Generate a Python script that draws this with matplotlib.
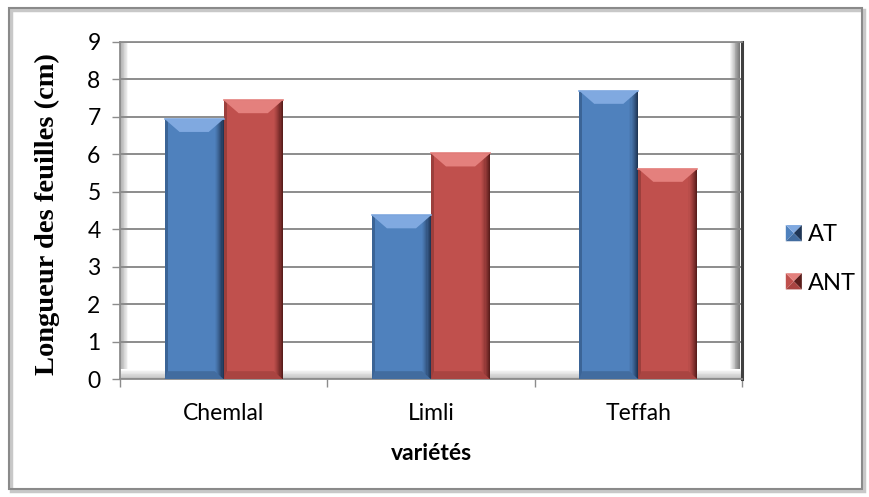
import matplotlib
matplotlib.use('Agg')
import matplotlib.pyplot as plt
import numpy as np
from matplotlib.patches import Polygon, Rectangle
from matplotlib.legend_handler import HandlerPatch
from matplotlib.colors import to_rgb

# Longueur moyenne des feuilles (cm) par variété
varietes = ['Chemlal', 'Limli', 'Teffah']
at = [6.94, 4.37, 7.69]
ant = [7.44, 6.02, 5.61]
series = ['AT', 'ANT']
yticks = list(range(0, 10))

# couleurs : face, biseau haut, bord droit, bord gauche, bas
palette = {
    'AT': ['#4F81BD', '#80A9E0', '#1F3656', '#3B6496', '#426C9F'],
    'ANT': ['#C0504D', '#E4807D', '#5A1D1B', '#9C3F3C', '#A94441'],
}

W, H = 869, 497
fig = plt.figure(figsize=(W / 100, H / 100), dpi=100)

# zone de tracé en pixels
px_l, px_r, px_t, px_b = 120, 742, 41.7, 379.2
ax = fig.add_axes([px_l / W, 1 - px_b / H, (px_r - px_l) / W, (px_b - px_t) / H])
ax_w, ax_h = px_r - px_l, px_b - px_t

# cadre extérieur du graphique avec ombre
fig.patches.append(Rectangle((11 / W, 6 / H), 853 / W, 481 / H, transform=fig.transFigure,
                             fill=False, edgecolor='#c8c8c8', linewidth=2.5, zorder=0))
fig.patches.append(Rectangle((9 / W, 8 / H), 853 / W, 481 / H, transform=fig.transFigure,
                             fill=False, edgecolor='#8a8a8a', linewidth=1.5, zorder=1))


def degrade(x0, x1, y0, y1, c0, c1, n=12, sens='x', z=0.2):
    """bande en dégradé (coordonnées axes)"""
    c0, c1 = np.array(to_rgb(c0)), np.array(to_rgb(c1))
    for k in range(n):
        f = k / (n - 1)
        col = c0 + (c1 - c0) * f
        if sens == 'x':
            xa = x0 + (x1 - x0) * k / n
            r = Rectangle((xa, y0), (x1 - x0) / n * 1.05, y1 - y0, transform=ax.transAxes,
                          facecolor=col, edgecolor='none', zorder=z)
        else:
            ya = y0 + (y1 - y0) * k / n
            r = Rectangle((x0, ya), x1 - x0, (y1 - y0) / n * 1.05, transform=ax.transAxes,
                          facecolor=col, edgecolor='none', zorder=z)
        ax.add_patch(r)


# murs et sol en relief
degrade(0, 9 / ax_w, 0, 1, '#a8a8a8', '#ffffff')
degrade(1 - 13 / ax_w, 1 - 2 / ax_w, 0, 1, '#ffffff', '#7a7a7a')
degrade(0, 1, 1 / ax_h, 10 / ax_h, '#c4c4c4', '#ffffff', sens='y')

x = np.arange(len(varietes))
largeur = 0.285
barres = {
    'AT': ax.bar(x - largeur / 2, at, largeur, color=palette['AT'][0], zorder=3, label='AT'),
    'ANT': ax.bar(x + largeur / 2, ant, largeur, color=palette['ANT'][0], zorder=3, label='ANT'),
}

ppx = ax_w / 3.0   # pixels par unité en x
ppy = ax_h / 9.0   # pixels par unité en y


def biseau(rect, cols):
    face, clair, sombre, gauche, bas = cols
    x0, y0 = rect.get_x(), rect.get_y()
    x1, y1 = x0 + rect.get_width(), y0 + rect.get_height()
    t, hx = 13 / ppy, 15 / ppx
    r, l, b = 9 / ppx, 3 / ppx, 8 / ppy
    # bord droit en dégradé
    c0, c1 = np.array(to_rgb(face)), np.array(to_rgb(sombre))
    n = 8
    for k in range(n):
        f = (k + 1) / n
        ax.add_patch(Rectangle((x1 - r + r * k / n, y0), r / n * 1.05, y1 - y0,
                               facecolor=c0 + (c1 - c0) * f ** 1.3, edgecolor='none', zorder=4))
    ax.add_patch(Rectangle((x0, y0), l, y1 - y0, facecolor=gauche, edgecolor='none', zorder=4))
    # bas
    ax.add_patch(Polygon([(x0, y0), (x1, y0), (x1 - r, y0 + b), (x0 + l, y0 + b)],
                         closed=True, facecolor=bas, edgecolor='none', zorder=5))
    # biseau supérieur
    ax.add_patch(Polygon([(x0, y1), (x1, y1), (x1 - hx, y1 - t), (x0 + hx, y1 - t)],
                         closed=True, facecolor=clair, edgecolor='none', zorder=5))
    ax.plot([x0, x1], [y1, y1], color=clair, lw=1.2, zorder=6)


for nom, cont in barres.items():
    for rect in cont:
        biseau(rect, palette[nom])


class HandlerBiseau(HandlerPatch):
    def create_artists(self, legend, orig_handle, xdescent, ydescent, width, height, fontsize, trans):
        face, clair, sombre, gauche, bas = palette[orig_handle.get_label()]
        x0, y0 = -xdescent, -ydescent
        x1, y1 = x0 + width, y0 + height
        cx, cy = (x0 + x1) / 2, (y0 + y1) / 2
        tri = [
            ([(x0, y0), (x0, y1), (cx, cy)], face),
            ([(x0, y1), (x1, y1), (cx, cy)], clair),
            ([(x1, y1), (x1, y0), (cx, cy)], sombre),
            ([(x0, y0), (x1, y0), (cx, cy)], bas),
        ]
        return [Polygon(p, closed=True, facecolor=c, edgecolor='none', transform=trans) for p, c in tri]


ax.set_xlim(-0.5, 2.5)
ax.set_ylim(0, 9)
ax.set_yticks(yticks)
ax.set_xticks([-0.5, 0.5, 1.5, 2.5])
ax.set_xticklabels([])
ax.set_xticks(x, minor=True)
ax.set_xticklabels(varietes, minor=True)

police = 'Lato'
taille = 16.5
ax.tick_params(axis='y', length=6, width=1, color='#8c8c8c', pad=8, labelsize=taille)
ax.tick_params(axis='x', which='major', length=6, width=1, color='#8c8c8c')
ax.tick_params(axis='x', which='minor', length=0, pad=17, labelsize=taille)
for lab in ax.get_yticklabels() + ax.get_xticklabels(minor=True):
    lab.set_fontfamily(police)

ax.grid(axis='y', color='#8c8c8c', linewidth=1.4)
ax.set_axisbelow(True)
for s in ['left', 'bottom', 'top']:
    ax.spines[s].set_color('#8c8c8c')
    ax.spines[s].set_linewidth(1.3)
ax.spines['right'].set_color('#404040')
ax.spines['right'].set_linewidth(2.2)

ax.set_ylabel('Longueur des feuilles (cm)', fontfamily='Liberation Serif', fontweight='bold', fontsize=20.5)
ax.yaxis.set_label_coords(-60 / ax_w, 0.49)
ax.set_xlabel('variétés', fontfamily=police, fontweight='bold', fontsize=taille)
ax.xaxis.set_label_coords(0.5, -(453 - px_b) / ax_h)
ax.xaxis.label.set_va('center')

poignees = [barres['AT'].patches[0], barres['ANT'].patches[0]]
for p, nom in zip(poignees, series):
    p.set_label(nom)
leg = fig.legend(poignees, series, loc='center left', bbox_to_anchor=(774 / W, 1 - 259 / H),
                 frameon=False, prop={'family': police, 'size': 17},
                 handlelength=0.68, handleheight=0.68, handletextpad=0.25, labelspacing=1.15,
                 borderpad=0, handler_map={matplotlib.patches.Rectangle: HandlerBiseau()})

fig.savefig('out.png', dpi=100)
